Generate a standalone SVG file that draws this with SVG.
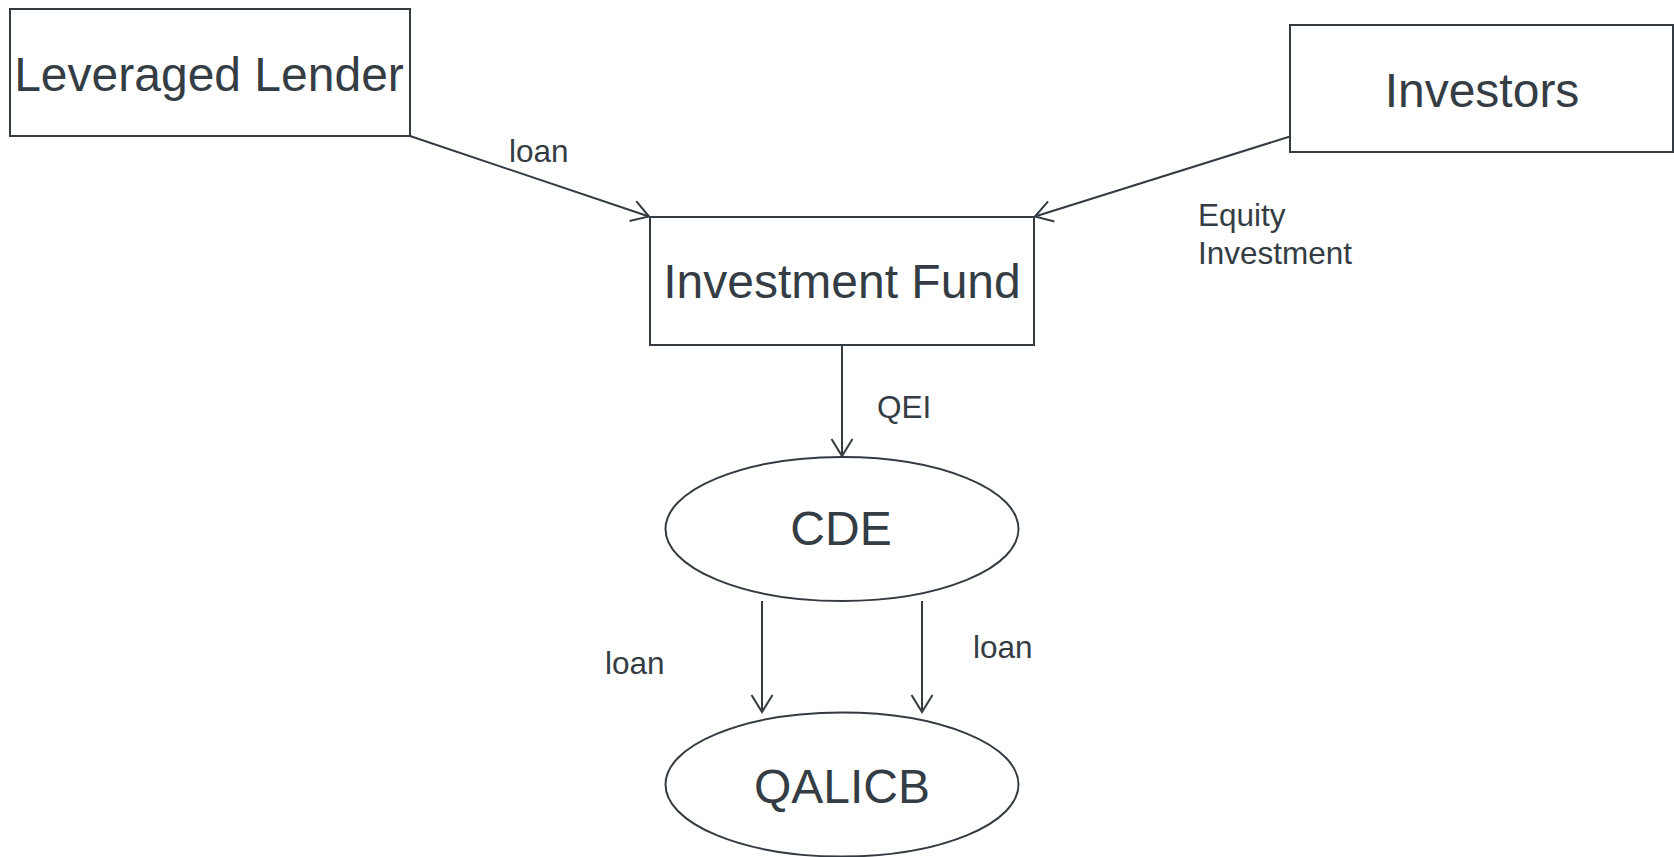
<svg xmlns="http://www.w3.org/2000/svg" width="1674" height="857" viewBox="0 0 1674 857">
<style>
.box{fill:#ffffff;stroke:#343c42;stroke-width:2}
.lbl{font-family:"Liberation Sans",Arial,sans-serif;font-size:48px;fill:#343d44;text-anchor:middle}
.edge{font-family:"Liberation Sans",Arial,sans-serif;font-size:31.5px;fill:#343d44}
.conn{fill:none;stroke:#343c42;stroke-width:2}
</style>
<defs>
<marker id="arr" viewBox="-20 -12 22 24" refX="0" refY="0" markerWidth="22" markerHeight="24" markerUnits="userSpaceOnUse" orient="auto">
<path d="M-17,-10.5 L0,0 L-17,10.5" fill="none" stroke="#343c42" stroke-width="2"/>
</marker>
</defs>
<rect width="1674" height="857" fill="#ffffff"/>
<g id="connectors">
<line class="conn" x1="410" y1="136" x2="649" y2="216.5" marker-end="url(#arr)"/>
<line class="conn" x1="1290" y1="136.5" x2="1035" y2="216.5" marker-end="url(#arr)"/>
<line class="conn" x1="842" y1="345" x2="842" y2="456" marker-end="url(#arr)"/>
<line class="conn" x1="762" y1="601" x2="762" y2="712" marker-end="url(#arr)"/>
<line class="conn" x1="922" y1="601" x2="922" y2="712" marker-end="url(#arr)"/>
<text class="edge" x="509" y="162">loan</text>
<text class="edge" x="1198" y="226">Equity</text>
<text class="edge" x="1198" y="264">Investment</text>
<text class="edge" x="877" y="418">QEI</text>
<text class="edge" x="605" y="674">loan</text>
<text class="edge" x="973" y="658">loan</text>
</g>
<g id="leveraged-lender">
<rect class="box" x="10" y="9" width="400" height="127"/>
<text class="lbl" x="209" y="91">Leveraged Lender</text>
</g>
<g id="investors">
<rect class="box" x="1290" y="25" width="383" height="127"/>
<text class="lbl" x="1482" y="107">Investors</text>
</g>
<g id="investment-fund">
<rect class="box" x="650" y="217" width="384" height="128"/>
<text class="lbl" x="842" y="298">Investment Fund</text>
</g>
<g id="cde">
<ellipse class="box" cx="842" cy="529" rx="176.5" ry="72"/>
<text class="lbl" x="841" y="545">CDE</text>
</g>
<g id="qalicb">
<ellipse class="box" cx="842" cy="784.5" rx="176.5" ry="72"/>
<text class="lbl" x="842" y="803">QALICB</text>
</g>
</svg>
